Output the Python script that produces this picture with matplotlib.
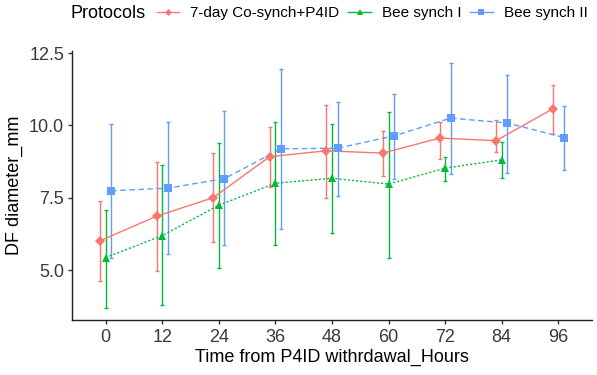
import numpy as np
import matplotlib
matplotlib.use('Agg')
import matplotlib.pyplot as plt
from matplotlib.lines import Line2D

plt.rcParams['font.family'] = ['Liberation Sans', 'DejaVu Sans']

hours = [0, 12, 24, 36, 48, 60, 72, 84, 96]

# 7-day Co-synch+P4ID
red_mean = [6.01, 6.86, 7.50, 8.92, 9.12, 9.04, 9.56, 9.47, 10.57]
red_low = [4.62, 4.96, 5.98, 7.88, 7.48, 8.25, 8.83, 9.08, 9.71]
red_high = [7.39, 8.74, 9.05, 9.96, 10.71, 9.79, 10.11, 10.17, 11.40]

# Bee synch I (no 96 h value)
green_mean = [5.43, 6.19, 7.24, 8.00, 8.17, 7.97, 8.52, 8.81]
green_low = [3.68, 3.80, 5.08, 5.88, 6.29, 5.40, 8.09, 8.17]
green_high = [7.08, 8.62, 9.38, 10.13, 10.04, 10.46, 8.92, 9.42]

# Bee synch II
blue_mean = [7.74, 7.83, 8.16, 9.19, 9.21, 9.64, 10.25, 10.08, 9.58]
blue_low = [5.43, 5.54, 5.85, 6.42, 7.56, 8.14, 8.31, 8.35, 8.46]
blue_high = [10.04, 10.12, 10.50, 11.94, 10.82, 11.08, 12.15, 11.75, 10.67]

labels = ['7-day Co-synch+P4ID', 'Bee synch I', 'Bee synch II']
colors = ['#F8766D', '#00BA38', '#619CFF']
markers = ['D', '^', 's']
msizes = [5, 6, 5.5]
styles = ['-', (0, (1.5, 1.5)), (0, (4, 2.5))]
dodge = [-1.2, 0, 1.2]

fig = plt.figure(figsize=(5.97, 3.75), dpi=100)
ax = fig.add_axes([0.1201, 0.148, 0.872, 0.7168])

series = [(red_mean, red_low, red_high), (green_mean, green_low, green_high),
          (blue_mean, blue_low, blue_high)]
handles = []
for k, (m, lo, hi) in enumerate(series):
    x = np.array(hours[:len(m)]) + dodge[k]
    m = np.array(m)
    yerr = [m - np.array(lo), np.array(hi) - m]
    ax.errorbar(x, m, yerr=yerr, fmt='none', ecolor=colors[k], elinewidth=1.0,
                capsize=1.5, capthick=1.0, zorder=2)
    ax.plot(x, m, color=colors[k], linestyle=styles[k], linewidth=1.0, zorder=3)
    ax.plot(x, m, linestyle='none', marker=markers[k], markersize=msizes[k],
            color=colors[k], markeredgewidth=0, zorder=4)
    handles.append(Line2D([], [], color=colors[k], linestyle='-', linewidth=1.0,
                          marker=markers[k], markersize=msizes[k] - 1.5, markeredgewidth=0))

ax.set_xlim(-7.2, 103.2)
ax.set_ylim(3.29, 12.58)
ax.set_xticks(hours)
ax.set_yticks([5.0, 7.5, 10.0, 12.5])
ax.set_yticklabels(['5.0', '7.5', '10.0', '12.5'])
ax.tick_params(labelsize=13, colors='#333333', length=3, width=1, pad=2.5)
ax.tick_params(axis='x', pad=3.5)
ax.tick_params(axis='both', labelcolor='#3a3a3a')
for s in ['top', 'right']:
    ax.spines[s].set_visible(False)
for s in ['left', 'bottom']:
    ax.spines[s].set_color('#222222')
    ax.spines[s].set_linewidth(1.0)

ax.set_xlabel('Time from P4ID withrdawal_Hours', fontsize=13, labelpad=2.5)
ax.set_ylabel('DF diameter_mm', fontsize=13, labelpad=4)

fig.text(70 / 597, 1 - 13 / 375, 'Protocols', fontsize=13, ha='left', va='center')
fig.legend(handles=handles, labels=labels, loc='center left',
           bbox_to_anchor=(157 / 597, 1 - 13 / 375), ncol=3, frameon=False,
           fontsize=11, handlelength=1.45, handletextpad=0.72, columnspacing=0.6,
           borderpad=0, borderaxespad=0)

fig.savefig('out.png', dpi=100)
